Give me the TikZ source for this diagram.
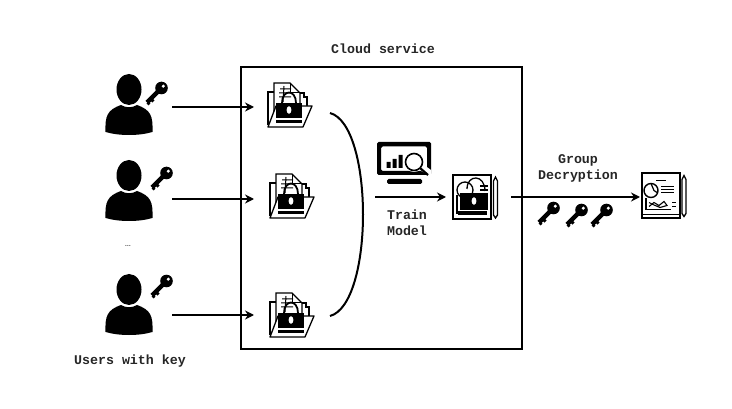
\documentclass[tikz,border=0pt]{standalone}
\usepackage{fontspec}
\setmonofont{Liberation Mono}
\usetikzlibrary{arrows.meta}
\tikzset{
  x=1pt,y=-1pt,
  lbl/.style={font=\ttfamily\bfseries\fontsize{13.3}{15.8}\selectfont,align=center,inner sep=0pt,text=black!85},
  anchorbox/.style={inner sep=0pt,minimum width=#1,minimum height=#1},
  conn/.style={line width=2pt,-{Stealth[length=9pt,width=9pt]}},
  user/.pic={
    \fill (0,-15.5) ellipse [x radius=12.5,y radius=15.5];
    \fill (-23.5,27) .. controls (-24,11) and (-22,5) .. (-8,0) .. controls (-3,3) and (3,3) .. (8,0)
       .. controls (22,5) and (24,11) .. (23.5,27) .. controls (10,31) and (-10,31) .. (-23.5,27) -- cycle;
  },
  keyicon/.pic={
    \fill[even odd rule] (6.5,-7) circle (6.3) (8.3,-8.8) circle (1.9);
    \draw[line width=4.4pt] (4,-4.5) -- (-8,7.5);
    \draw[line width=3pt] (-4,4) -- (-1.5,6.5);
    \draw[line width=2.5pt] (-7.5,7.5) -- (-5.5,9.5);
  },
  folder/.pic={
    \draw[line width=1.3pt,fill=white] (-21,-13) -- (-14,-13) -- (-14,19) -- (-21,19) -- cycle;
    \draw[line width=1.3pt,fill=white] (-15,-22) -- (1,-22) -- (11,-12) -- (11,10) -- (-15,10) -- cycle;
    \draw[line width=1pt] (1,-22) -- (1,-12) -- (11,-12);
    \draw[line width=1.2pt] (11,-12) -- (15,-12) -- (15,-8) -- (18,-8) -- (18,6);
    \draw[line width=1pt] (-9,-16) -- (2,-16) (-10,-12) -- (2,-12) (-10,-8) -- (2,-8) (-5,-19) -- (-6,-3);
    \draw[line width=1.3pt,line join=round,fill=white] (-21,22) -- (-13,1) -- (23,1) -- (14,22) -- cycle;
    \draw[line width=1.8pt] (-7,-2) .. controls (-7,-16) and (7,-16) .. (7,-2);
    \fill (-13,-2) rectangle (13,13);
    \fill (-13,15) rectangle (13,18);
    \fill[white] (0,5) ellipse [x radius=2.4,y radius=3.8];
  },
  lockedreport/.pic={
    \draw[line width=1.8pt,fill=white] (-19,-22) rectangle (19,22);
    \draw[line width=1.3pt] (-7,-7) circle (8);
    \draw[line width=1.3pt] (-5,-8) .. controls (-5,-23) and (13,-23) .. (13,-6);
    \draw[line width=1.1pt] (8,-11) -- (16,-11) (8,-7) -- (16,-7);
    \draw[line width=1.3pt] (-15,-2) -- (-15,16) -- (15,16);
    \fill (-12,-4) rectangle (16,13);
    \fill (-14,14) rectangle (15,18);
    \fill[white] (2,4) ellipse [x radius=2.4,y radius=3.8];
    \draw[line width=1.3pt,fill=white] (21.5,-16) -- (23.5,-20) -- (25.5,-16) -- (25.5,18) -- (23.5,21) -- (21.5,18) -- cycle;
  },
  plainreport/.pic={
    \draw[line width=1.8pt,fill=white] (-19,-22.5) rectangle (19,22.5);
    \draw[line width=1.3pt] (-19,19) -- (19,19);
    \draw[line width=1.1pt] (-5,-15) -- (5,-15);
    \draw[line width=1.4pt] (-10,-5) circle (7);
    \draw[line width=1.2pt] (-10,-12) -- (-7,-5) -- (-4,-3);
    \draw[line width=1.1pt] (0,-9) -- (13,-9) (0,-6) -- (13,-6) (0,-3) -- (13,-3);
    \draw[line width=1.2pt] (-15,3) -- (-15,14) -- (10,14);
    \draw[line width=1.1pt] (-12,11) -- (-7,7) -- (-2,10) -- (3,6) -- (6,10) -- (-1,12) -- (-7,9.5) -- (-12,7);
    \draw[line width=1.1pt] (11,7) -- (15,7) (11,11) -- (15,11);
    \draw[line width=1.3pt,fill=white] (21,-16) -- (23,-20) -- (25,-16) -- (25,18) -- (23,21) -- (21,18) -- cycle;
  },
  monitor/.pic={
    \fill[even odd rule,rounded corners=1.5pt] (-27,-21) rectangle (27,12) (-23,-16.5) rectangle (23,8);
    \fill (-17.5,-1) rectangle (-13.5,5) (-11.5,-4) rectangle (-7.5,5) (-5.5,-8) rectangle (-1.5,5);
    \fill[white] (10,-1) circle (10);
    \fill[white] (17,8) -- (27,13) -- (27,7) -- (20,2) -- cycle;
    \draw[line width=1.6pt] (10,-1) circle (8.5);
    \draw[line width=2.2pt] (16,5) -- (24,12);
    \fill[rounded corners=1.5pt] (-17,16) rectangle (18,21);
  }
}
\begin{document}
\begin{tikzpicture}
\useasboundingbox (0,0) rectangle (732,409);
\draw[line width=2pt] (241,67) rectangle (522,349);
\node[lbl] (title) at (383,49) {Cloud service};

\foreach \n/\y in {1/105,2/191,3/305}{
  \node[anchorbox=46pt] (u\n) at (129,\y) {};
  \pic at (129,\y) {user};
}
\pic at (155,95) {keyicon};
\pic at (160,180) {keyicon};
\pic at (160,288) {keyicon};
\node[font=\fontsize{10}{10}\selectfont,inner sep=0pt,text=black!80] (dots) at (128,246) {\dots};
\node[lbl] (users) at (130,361) {Users with key};

\coordinate (a1) at (172,107);
\coordinate (a2) at (172,199);
\coordinate (a3) at (172,315);
\node[anchorbox=2pt] (f1) at (289,105) {};
\node[anchorbox=2pt] (f2) at (291,196) {};
\node[anchorbox=2pt] (f3) at (291,315) {};
\coordinate (t1) at (254,107);
\coordinate (t2) at (254,199);
\coordinate (t3) at (254,315);
\draw[conn] (a1) -- (t1);
\draw[conn] (a2) -- (t2);
\draw[conn] (a3) -- (t3);
\pic at (f1) {folder};
\pic at (f2) {folder};
\pic at (f3) {folder};

\coordinate (c1) at (330,113);
\coordinate (c2) at (330,316);
\draw[line width=2pt] (c1) .. controls (374,125) and (374,304) .. (c2);

\pic at (404,163) {monitor};
\node[lbl] (train) at (407,222.5) {Train\\Model};
\node[anchorbox=44pt] (r1) at (472,197) {};
\coordinate (s1) at (375,197);
\coordinate (e1) at (446,197);
\draw[conn] (s1) -- (e1);
\pic at (472,197) {lockedreport};

\node[anchorbox=45pt] (r2) at (661,195.5) {};
\coordinate (s2) at (511,197);
\coordinate (e2) at (640,197);
\draw[conn] (s2) -- (e2);
\pic at (r2) {plainreport};
\node[lbl] (group) at (578,168.5) {Group\\Decryption};
\pic at (547,215) {keyicon};
\pic at (575,217) {keyicon};
\pic at (600,217) {keyicon};
\end{tikzpicture}
\end{document}
